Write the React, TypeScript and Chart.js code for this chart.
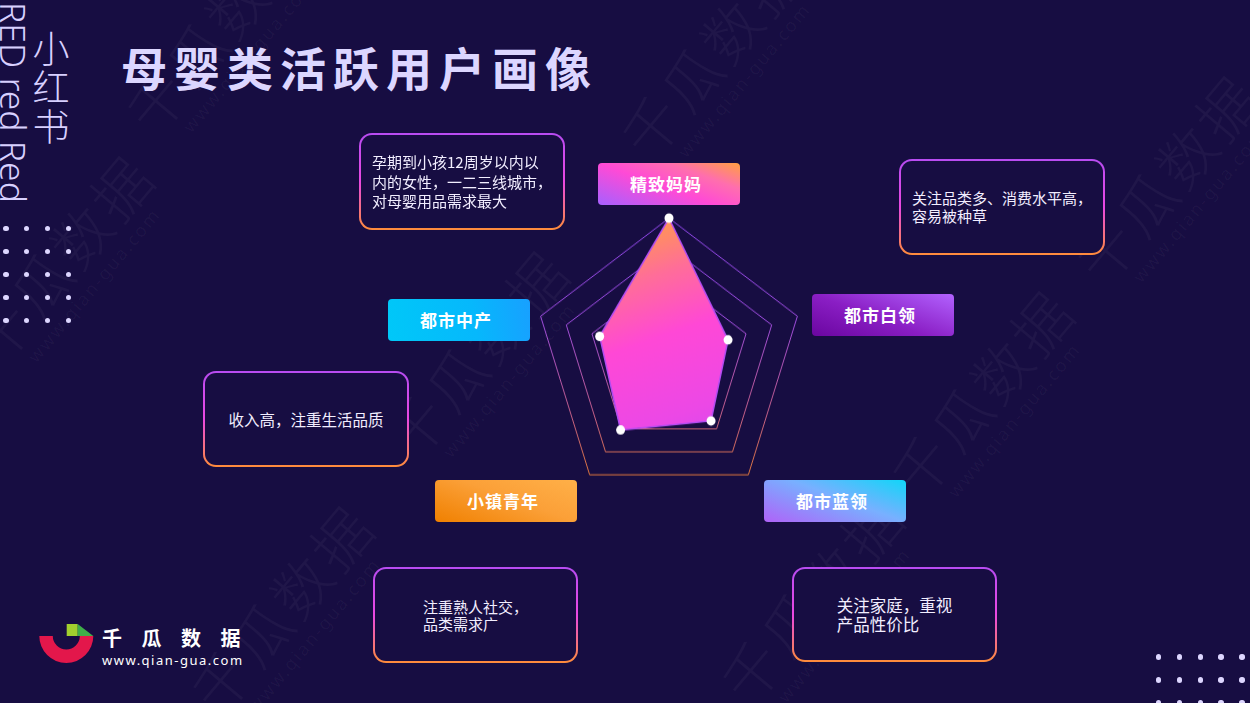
import React, { useEffect, useRef } from 'react';
import { Chart, registerables } from 'chart.js';

Chart.register(...registerables);

// ---------- data ----------
const categories = ['精致妈妈', '都市白领', '都市蓝领', '小镇青年', '都市中产'];
const shareValues = [100, 46, 53, 61, 54];
const scaleMin = 0;
const scaleMax = 100;
const scaleStep = 20;
const firstVisibleRing = 60;

const titleText = '母婴类活跃用户画像';
const descriptions = [
  ['孕期到小孩12周岁以内以', '内的女性，一二三线城市，', '对母婴用品需求最大'],
  ['关注品类多、消费水平高，', '容易被种草'],
  ['收入高，注重生活品质'],
  ['注重熟人社交，', '品类需求广'],
  ['关注家庭，重视', '产品性价比'],
];

// ---------- layout / styles ----------
const BG = '#170d42';
const FONT = '"Noto Sans CJK SC", "Noto Sans", sans-serif';

const labelBoxes = [
  { left: 598, top: 163, bg: 'linear-gradient(20deg, #a660ff 0%, #ff4ad6 45%, #ff6eae 72%, #ffa040 100%)' },
  { left: 812, top: 294, bg: 'linear-gradient(20deg, #6a06a0 0%, #8a1ec4 45%, #b262ff 100%)' },
  { left: 764, top: 480, bg: 'linear-gradient(20deg, #b062f8 0%, #78b0ff 55%, #10d6f8 100%)' },
  { left: 435, top: 480, bg: 'linear-gradient(20deg, #f08000 0%, #fba038 55%, #ffb048 100%)' },
  { left: 388, top: 299, bg: 'linear-gradient(80deg, #00c8f8 0%, #06b8fc 60%, #18a0ff 100%)' },
];

const descBoxes = [
  { left: 359, top: 133, w: 206, h: 97, fs: 15, lh: 19.5 },
  { left: 899, top: 159, w: 206, h: 96, fs: 15, lh: 18 },
  { left: 203, top: 371, w: 206, h: 96, fs: 15.5, lh: 18 },
  { left: 373, top: 567, w: 205, h: 96, fs: 15, lh: 17.5 },
  { left: 792, top: 567, w: 205, h: 95, fs: 16.5, lh: 18.5 },
];

const watermarkSpots = [
  [225, 35], [70, 265], [485, 360], [990, 400], [1175, 185], [820, 605], [290, 615], [720, 60],
];

function Watermark({ x, y }: { x: number; y: number }) {
  return (
    <div
      style={{
        position: 'absolute', left: x, top: y, transform: 'translate(-50%, -50%) rotate(-50deg)',
        whiteSpace: 'nowrap', color: 'rgba(255,255,255,0.04)', fontFamily: FONT, textAlign: 'center',
        pointerEvents: 'none',
      }}
    >
      <div style={{ fontSize: 58, fontWeight: 300, letterSpacing: 4, lineHeight: '62px' }}>千瓜数据</div>
      <div style={{ fontSize: 18, letterSpacing: 2, lineHeight: '24px', fontFamily: '"Noto Sans", sans-serif' }}>www.qian-gua.com</div>
    </div>
  );
}

function DotGrid({ left, top, cols, rows, dx, dy }: any) {
  const dots = [];
  for (let r = 0; r < rows; r++) {
    for (let c = 0; c < cols; c++) {
      dots.push(
        <div key={r + '-' + c} style={{
          position: 'absolute', left: left + c * dx - 2.7, top: top + r * dy - 2.7, width: 5.4, height: 5.4,
          borderRadius: '50%', background: '#ddd6ff',
        }} />
      );
    }
  }
  return <>{dots}</>;
}

function RadarChart() {
  const ref = useRef<HTMLCanvasElement>(null);
  useEffect(() => {
    const canvas = ref.current!;
    const chart = new Chart(canvas, {
      type: 'radar',
      data: {
        labels: categories,
        datasets: [{
          data: shareValues,
          fill: true,
          backgroundColor: (c: any) => {
            const ch = c.chart;
            const a = ch.chartArea;
            if (!a) return '#ff48d6';
            const g = ch.ctx.createLinearGradient(a.left + 105, a.top, a.left + 185, a.top + 240);
            g.addColorStop(0, '#ffa044');
            g.addColorStop(0.22, '#ff6e98');
            g.addColorStop(0.45, '#ff48d6');
            g.addColorStop(0.75, '#ec48e6');
            g.addColorStop(1, '#c84cf4');
            return g;
          },
          borderColor: '#b44cf2',
          borderWidth: 1.5,
          pointBackgroundColor: '#ffffff',
          pointBorderColor: '#ffffff',
          pointBorderWidth: 0,
          pointRadius: 4.5,
          pointHoverRadius: 4.5,
        }],
      },
      options: {
        responsive: false,
        animation: false,
        events: [],
        layout: { padding: 10 },
        plugins: { legend: { display: false }, tooltip: { enabled: false } },
        scales: {
          r: {
            min: scaleMin,
            max: scaleMax,
            ticks: { display: false, stepSize: scaleStep },
            pointLabels: { display: false },
            angleLines: { display: false },
            grid: {
              lineWidth: 1,
              color: (c: any) => {
                const v = c.tick ? c.tick.value : 0;
                if (v < firstVisibleRing) return 'rgba(0,0,0,0)';
                const ch = c.chart;
                const a = ch.chartArea;
                if (!a) return '#a050d8';
                const g = ch.ctx.createLinearGradient(0, a.top, 0, a.top + 245);
                g.addColorStop(0, '#8c46e8');
                g.addColorStop(0.4, '#a04ee0');
                g.addColorStop(0.75, '#c4608c');
                g.addColorStop(1, '#e0783c');
                return g;
              },
            },
          },
        },
      },
    } as any);
    return () => chart.destroy();
  }, []);
  return (
    <div style={{
      position: 'absolute', left: 524, top: 215, width: 290, height: 290,
      transform: 'scaleY(1.051)', transformOrigin: '50% 50%',
    }}>
      <canvas ref={ref} width={290} height={290} style={{ width: 290, height: 290, display: 'block' }} />
    </div>
  );
}

export default function App() {
  useEffect(() => {
    document.body.style.margin = '0';
  }, []);
  return (
    <div style={{
      position: 'fixed', left: 0, top: 0, width: 1250, height: 703, overflow: 'hidden',
      background: BG, fontFamily: FONT,
    }}>
      {watermarkSpots.map(([x, y], i) => <Watermark key={i} x={x} y={y} />)}

      {/* vertical brand text */}
      <div style={{
        position: 'absolute', left: 0, top: 0, transformOrigin: 'left top',
        transform: 'translate(31px, 2px) rotate(90deg)', whiteSpace: 'nowrap',
        fontFamily: '"Noto Sans", sans-serif', fontWeight: 300, fontSize: 35.5, lineHeight: '35.5px', color: '#d8d0ff',
      }}>RED red Red</div>
      <div style={{
        position: 'absolute', left: 32, top: 30, writingMode: 'vertical-rl', fontSize: 37, lineHeight: '37px',
        letterSpacing: 2, fontWeight: 300, color: '#d8d0ff',
      }}>小红书</div>

      <DotGrid left={6} top={228.5} cols={4} rows={5} dx={20.8} dy={23} />
      <DotGrid left={1158.7} top={657} cols={5} rows={3} dx={20.8} dy={23} />

      {/* title */}
      <div style={{
        position: 'absolute', left: 121, top: 43, fontSize: 46, lineHeight: '46px', fontWeight: 700,
        letterSpacing: 7, color: '#dcd6ff', whiteSpace: 'nowrap',
      }}>{titleText}</div>

      <RadarChart />

      {categories.map((name, i) => (
        <div key={name} style={{
          position: 'absolute', left: labelBoxes[i].left, top: labelBoxes[i].top, width: 142, height: 42,
          borderRadius: 4, background: labelBoxes[i].bg, color: '#ffffff', fontWeight: 700, fontSize: 17,
          letterSpacing: 1, display: 'flex', alignItems: 'center', justifyContent: 'center', paddingRight: 6,
          paddingBottom: 1, boxSizing: 'border-box',
        }}>{name}</div>
      ))}

      {descriptions.map((lines, i) => {
        const b = descBoxes[i];
        return (
          <div key={i} style={{
            position: 'absolute', left: b.left, top: b.top, width: b.w, height: b.h, boxSizing: 'border-box',
            border: '2px solid transparent', borderRadius: 13,
            background: `linear-gradient(${BG}, ${BG}) padding-box, linear-gradient(180deg, #b84cf2 0%, #ea48e2 50%, #ff8c3a 100%) border-box`,
            display: 'flex', alignItems: 'center', justifyContent: 'center',
          }}>
            <div style={{ textAlign: 'left', color: '#f2eeff', fontSize: b.fs, lineHeight: b.lh + 'px', whiteSpace: 'nowrap' }}>
              {lines.map((l, j) => <div key={j}>{l}</div>)}
            </div>
          </div>
        );
      })}

      {/* logo */}
      <svg style={{ position: 'absolute', left: 36, top: 620 }} width={62} height={48} viewBox="0 0 62 48">
        <path d="M 3.3 16 A 27 27 0 0 0 57.3 16 L 43.8 16 A 13.5 13.5 0 0 1 16.8 16 Z" fill="#e3174b" />
        <rect x={30.7} y={4} width={11} height={12} fill="#a3cf2e" />
        <polygon points="41.7,4 57.3,16 41.7,16" fill="#3fae49" />
      </svg>
      <div style={{
        position: 'absolute', left: 102, top: 628, fontSize: 20, lineHeight: '20px', fontWeight: 700,
        letterSpacing: 19.5, color: '#ffffff', whiteSpace: 'nowrap',
      }}>千瓜数据</div>
      <div style={{
        position: 'absolute', left: 102, top: 653.5, fontSize: 13, lineHeight: '13px', letterSpacing: 1.5,
        color: '#ffffff', fontFamily: '"Noto Sans", sans-serif', whiteSpace: 'nowrap',
      }}>www.qian-gua.com</div>
    </div>
  );
}
